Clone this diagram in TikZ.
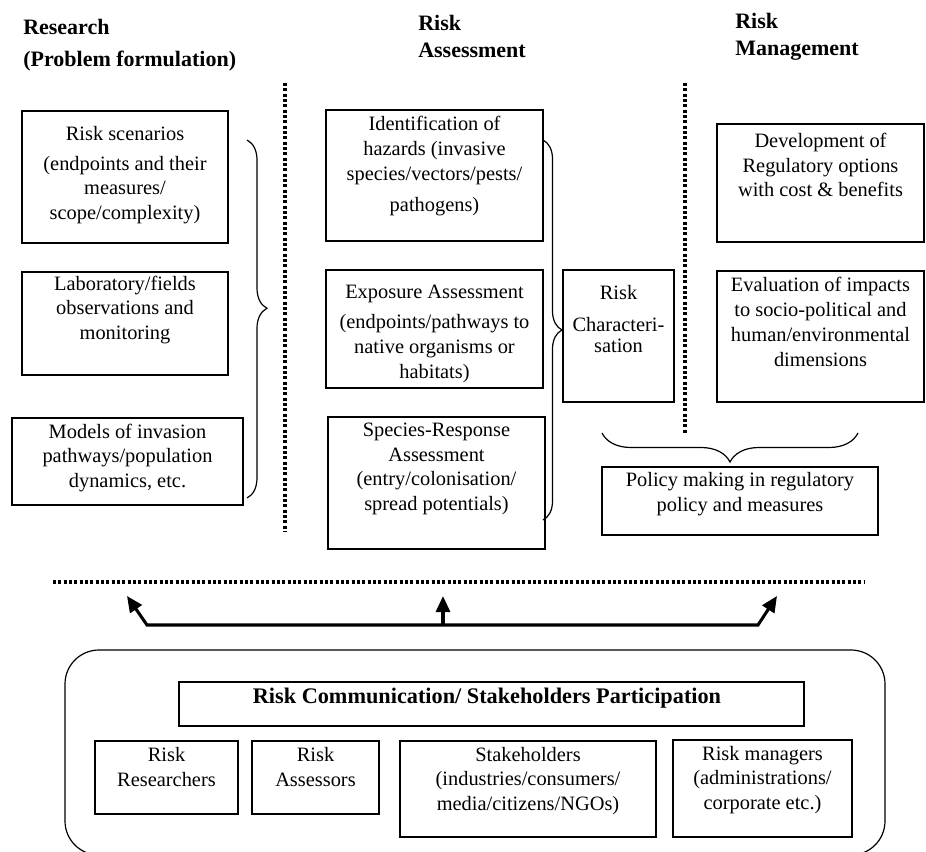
\documentclass[tikz,border=0pt]{standalone}
\usepackage{fontspec}
\setmainfont{Liberation Serif}
\usetikzlibrary{fit,arrows.meta,decorations.pathreplacing}

\begin{document}
\begin{tikzpicture}
[
    x=0.75pt, y=-0.75pt,
    box/.style={draw, line width=0.9pt, inner sep=0pt},
    boxtext/.style={align=center, inner sep=0pt, font=\fontsize{15.3}{18.6}\selectfont},
    head/.style={align=left, anchor=west, inner sep=0pt, font=\bfseries\fontsize{16.5}{24}\selectfont},
    dotline/.style={line width=2.7pt, dash pattern=on 2.3pt off 1.7pt},
    brc/.style={decorate, line width=0.9pt, decoration={brace, amplitude=#1}},
    bigarrow/.style={line width=2.3pt, line join=miter, >={Triangle[length=12pt,width=10.5pt]}},
]
\useasboundingbox (0,0) rectangle (926,851);
\clip (0,0) rectangle (926,851);

% column heads
\node[head] (research) at (23,45) {Research\\(Problem formulation)};
\node[head, font=\bfseries\fontsize{16.5}{20}\selectfont] (assess) at (418,36.5) {Risk\\Assessment};
\node[head, font=\bfseries\fontsize{16.5}{20}\selectfont] (manage) at (735,36.5) {Risk\\Management};

% separators
\draw[dotline] (285,83) -- (285,532);
\draw[dotline] (685,83) -- (685,433);
\draw[dotline] (53,582) -- (864,582);

% research
\node[box, fit={(22,111) (228,243)}] (scen) {};
\node[boxtext] (scentext) at (125,175)
    {Risk scenarios\\[4pt](endpoints and their\\measures/\\scope/complexity)};
\node[box, fit={(22,272) (228,375)}] (lab) {};
\node[boxtext] (labtext) at (125,310)
    {Laboratory/fields\\observations and\\monitoring};
\node[box, fit={(12,418) (243,505)}] (models) {};
\node[boxtext] (modelstext) at (127.5,458)
    {Models of invasion\\pathways/population\\dynamics, etc.};
\draw[brc=15pt, decoration={aspect=0.47}] (247,140) -- (247,498);

% assessment
\node[box, fit={(326,110) (543,241)}] (ident) {};
\node[boxtext] (identtext) at (434.5,166)
    {Identification of\\hazards (invasive\\species/vectors/pests/\\[4.5pt]pathogens)};
\node[box, fit={(326,270) (543,388)}] (expo) {};
\node[boxtext] (expotext) at (434.5,334)
    {Exposure Assessment\\[4pt](endpoints/pathways to\\native organisms or\\habitats)};
\node[box, fit={(328,417) (545,549)}] (spec) {};
\node[boxtext] (spectext) at (436.5,469)
    {Species-Response\\Assessment\\(entry/colonisation/\\spread potentials)};
\draw[brc=14.25pt] (543,140) -- (543,520);
\node[box, fit={(563,270) (674,402)}] (rchar) {};
\node[boxtext] (rchartext) at (618.5,319)
    {Risk\\[5pt]Characteri-\\[-3pt]sation};

% management
\node[box, fit={(717,124) (924,242)}] (dev) {};
\node[boxtext] (devtext) at (820.5,165)
    {Development of\\Regulatory options\\with cost \& benefits};
\node[box, fit={(717,271) (924,402)}] (eval) {};
\node[boxtext] (evaltext) at (820.5,322)
    {Evaluation of impacts\\to socio-political and\\human/environmental\\dimensions};
\draw[brc=21.75pt] (858,433) -- (602,433);
\node[box, fit={(602,467) (878,535)}] (policy) {};
\node[boxtext] (policytext) at (740,494)
    {Policy making in regulatory\\policy and measures};

% feedback arrows
\coordinate (hubL) at (147,625);
\coordinate (hubM) at (443,625);
\coordinate (hubR) at (758,625);
\coordinate (tipL) at (127,596);
\coordinate (tipM) at (443,596);
\coordinate (tipR) at (777,596);
\draw[bigarrow, <->] (tipL) -- (hubL) -- (hubR) -- (tipR);
\draw[bigarrow, ->] (hubM) -- (tipM);

% communication
\node[box, rounded corners=25.5pt, fit={(65,650) (885,855)}] (frame) {};
\node[box, fit={(179,682) (804,726)}] (comm) {};
\node[boxtext, font=\bfseries\fontsize{16.7}{20}\selectfont] (commtext) at (487,698)
    {Risk Communication/ Stakeholders Participation};
\node[box, fit={(95,741) (238,814)}] (rres) {};
\node[boxtext] (rrestext) at (166.5,767) {Risk\\Researchers};
\node[box, fit={(252,741) (379,814)}] (rass) {};
\node[boxtext] (rasstext) at (315.5,767) {Risk\\Assessors};
\node[box, fit={(400,741) (656,837)}] (stake) {};
\node[boxtext] (staketext) at (528,781)
    {Stakeholders\\(industries/consumers/\\media/citizens/NGOs)};
\node[box, fit={(673,740) (852,837)}] (rman) {};
\node[boxtext] (rmantext) at (762.5,780)
    {Risk managers\\(administrations/\\corporate etc.)};
\end{tikzpicture}
\end{document}
